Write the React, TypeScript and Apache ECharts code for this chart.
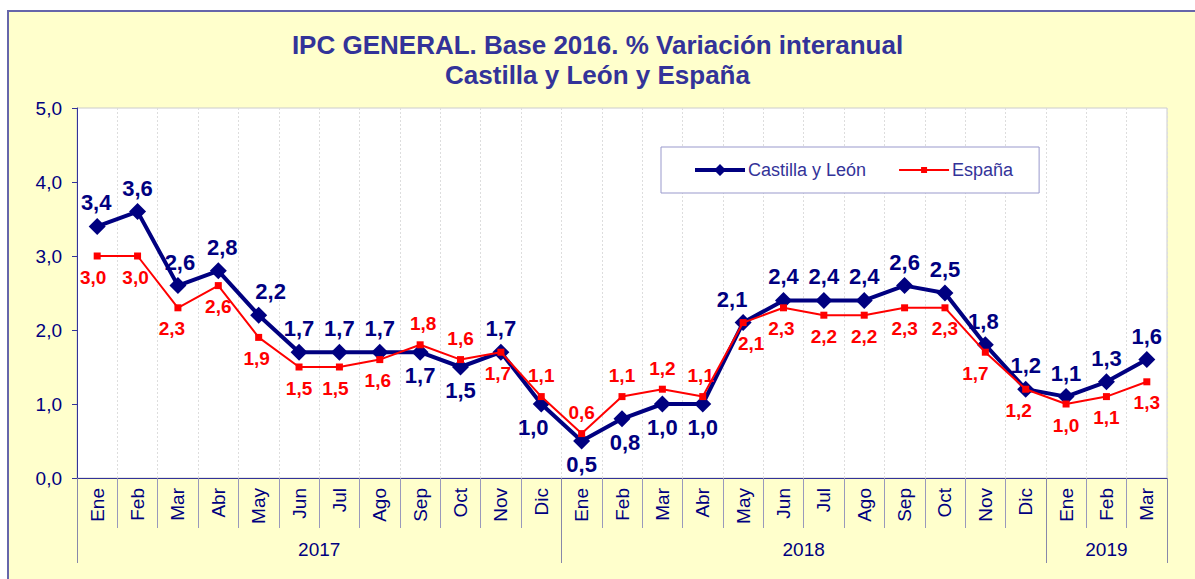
import React, { useEffect, useRef } from "react";
import * as echarts from "echarts";

const months = [
  "Ene", "Feb", "Mar", "Abr", "May", "Jun", "Jul", "Ago", "Sep", "Oct", "Nov", "Dic",
  "Ene", "Feb", "Mar", "Abr", "May", "Jun", "Jul", "Ago", "Sep", "Oct", "Nov", "Dic",
  "Ene", "Feb", "Mar",
];
const years = ["2017", "2018", "2019"];
const monthsInYear = [12, 12, 3];

const castillaLeon = [
  3.4, 3.6, 2.6, 2.8, 2.2, 1.7, 1.7, 1.7, 1.7, 1.5, 1.7, 1.0,
  0.5, 0.8, 1.0, 1.0, 2.1, 2.4, 2.4, 2.4, 2.6, 2.5, 1.8, 1.2,
  1.1, 1.3, 1.6,
];
const espana = [
  3.0, 3.0, 2.3, 2.6, 1.9, 1.5, 1.5, 1.6, 1.8, 1.6, 1.7, 1.1,
  0.6, 1.1, 1.2, 1.1, 2.1, 2.3, 2.2, 2.2, 2.3, 2.3, 1.7, 1.2,
  1.0, 1.1, 1.3,
];

// label placement (style only): [position, dx]
const cylPlace: [string, number][] = [
  ["top", -1], ["top", 0], ["top", 2], ["top", 4], ["top", 12], ["top", 0], ["top", 0], ["top", 0],
  ["bottom", 0], ["bottom", 0], ["top", 0], ["bottom", -8],
  ["bottom", 0], ["bottom", 3], ["bottom", 0], ["bottom", 0], ["top", -11], ["top", 0], ["top", 0],
  ["top", 0], ["top", 0], ["top", 0], ["top", -2], ["top", 0],
  ["top", 0], ["top", 0], ["top", 0],
];
const espPlace: [string, number][] = [
  ["bottom", -4], ["bottom", -2], ["bottom", -6], ["bottom", 0], ["bottom", -2], ["bottom", 0],
  ["bottom", -4], ["bottom", -2], ["top", 3], ["top", 0], ["bottom", -3], ["top", 0],
  ["top", 0], ["top", 0], ["top", 0], ["top", -2], ["bottom", 8], ["bottom", -2], ["bottom", 0],
  ["bottom", 0], ["bottom", 0], ["bottom", 0], ["bottom", -10], ["bottom", -7],
  ["bottom", 0], ["bottom", 0], ["bottom", 0],
];

const fmt = (v: number) => v.toFixed(1).replace(".", ",");

const cylIcon = "path://M0,4 L50,4 L50,8 L0,8 Z M25,0 L31,6 L25,12 L19,6 Z";
const espIcon = "path://M0,5 L50,5 L50,7 L0,7 Z M22,3 L28,3 L28,9 L22,9 Z";

export default function App() {
  const ref = useRef<HTMLDivElement>(null);
  useEffect(() => {
    if (!ref.current) return;
    const chart = echarts.init(ref.current, null, { renderer: "svg" });

    const boundaries: number[] = [0];
    const centers: number[] = [];
    monthsInYear.forEach((n) => {
      const start = boundaries[boundaries.length - 1];
      centers.push(start + n / 2);
      boundaries.push(start + n);
    });
    const total = boundaries[boundaries.length - 1];

    const navy = "#000080";
    const font = "Arial, 'Liberation Sans', sans-serif";

    chart.setOption({
      animation: false,
      backgroundColor: "#FFFFCC",
      textStyle: { fontFamily: font },
      title: {
        text: "IPC GENERAL. Base 2016. % Variación interanual\nCastilla y León y España",
        left: "center",
        top: 25,
        textStyle: {
          fontFamily: font,
          fontSize: 26,
          fontWeight: "bold",
          color: "#333399",
          lineHeight: 30,
        },
      },
      legend: {
        left: 661,
        top: 147,
        padding: [14, 26, 14, 34],
        backgroundColor: "#ffffff",
        borderColor: "#9999cc",
        borderWidth: 1,
        borderRadius: 0,
        itemWidth: 50,
        itemHeight: 12,
        itemGap: 33,
        symbolKeepAspect: true,
        itemStyle: { borderWidth: 0 },
        textStyle: { fontFamily: font, fontSize: 18, color: "#333399", padding: [0, 0, 0, -2] },
        data: [
          { name: "Castilla y León", icon: cylIcon },
          { name: "España", icon: espIcon },
        ],
      },
      grid: {
        left: 77,
        right: 28,
        top: 108,
        bottom: 101,
        show: true,
        backgroundColor: "#ffffff",
        borderColor: "#cccccc",
        borderWidth: 1,
      },
      xAxis: [
        {
          type: "category",
          data: months,
          boundaryGap: true,
          position: "bottom",
          axisLine: { onZero: false, lineStyle: { color: "#333399", width: 1 } },
          axisTick: { show: true, interval: 0, length: 50, lineStyle: { color: "#9999bb" } },
          axisLabel: {
            interval: 0,
            rotate: 90,
            margin: 10,
            fontSize: 19,
            fontFamily: font,
            color: navy,
          },
          splitLine: {
            show: true,
            interval: 0,
            lineStyle: { color: "#dddddd", type: [2, 2] },
          },
        },
        {
          type: "value",
          min: 0,
          max: total,
          position: "bottom",
          axisLine: { show: false, onZero: false },
          axisTick: {
            show: true,
            customValues: boundaries,
            length: 85,
            lineStyle: { color: "#8888aa" },
          },
          axisLabel: {
            customValues: centers,
            margin: 62,
            fontSize: 19,
            fontFamily: font,
            color: navy,
            formatter: (v: number) => {
              const idx = centers.findIndex((c) => Math.abs(c - v) < 1e-6);
              return idx >= 0 ? years[idx] : "";
            },
          },
          splitLine: { show: false },
        },
      ],
      yAxis: {
        type: "value",
        min: 0,
        max: 5,
        interval: 1,
        axisLine: { show: true, onZero: false, lineStyle: { color: "#333399" } },
        axisTick: { show: true, length: 5, lineStyle: { color: "#333399" } },
        axisLabel: {
          margin: 15,
          fontSize: 19,
          fontFamily: font,
          color: navy,
          formatter: (v: number) => fmt(v),
        },
        splitLine: { show: false },
      },
      series: [
        {
          name: "Castilla y León",
          type: "line",
          xAxisIndex: 0,
          data: castillaLeon.map((v, i) => ({
            value: v,
            label: { position: cylPlace[i][0], offset: [cylPlace[i][1], 0] },
          })),
          lineStyle: { color: navy, width: 4 },
          itemStyle: { color: navy },
          symbol: "diamond",
          symbolSize: 17,
          label: {
            show: true,
            distance: 4,
            fontSize: 22,
            fontWeight: "bold",
            fontFamily: font,
            color: navy,
            formatter: (p: any) => fmt(p.value),
          },
          z: 2,
        },
        {
          name: "España",
          type: "line",
          xAxisIndex: 0,
          data: espana.map((v, i) => ({
            value: v,
            label: { position: espPlace[i][0], offset: [espPlace[i][1], 0] },
          })),
          lineStyle: { color: "#ff0000", width: 2 },
          itemStyle: { color: "#ff0000" },
          symbol: "rect",
          symbolSize: 7,
          label: {
            show: true,
            distance: 8,
            fontSize: 19,
            fontWeight: "bold",
            fontFamily: font,
            color: "#ff0000",
            formatter: (p: any) => fmt(p.value),
          },
          z: 3,
        },
      ],
      graphic: [
        { type: "rect", shape: { x: 0, y: 0, width: 1195, height: 10 }, style: { fill: "#ffffff" }, silent: true },
        { type: "rect", shape: { x: 0, y: 0, width: 7, height: 579 }, style: { fill: "#ffffff" }, silent: true },
        { type: "line", shape: { x1: 7, y1: 11, x2: 1195, y2: 11 }, style: { stroke: "#6666aa", lineWidth: 2 }, silent: true },
        { type: "line", shape: { x1: 8, y1: 10, x2: 8, y2: 579 }, style: { stroke: "#6666aa", lineWidth: 2 }, silent: true },
      ],
    });
    return () => chart.dispose();
  }, []);
  return (
    <div
      ref={ref}
      style={{ position: "absolute", left: 0, top: 0, width: 1195, height: 579 }}
    />
  );
}
